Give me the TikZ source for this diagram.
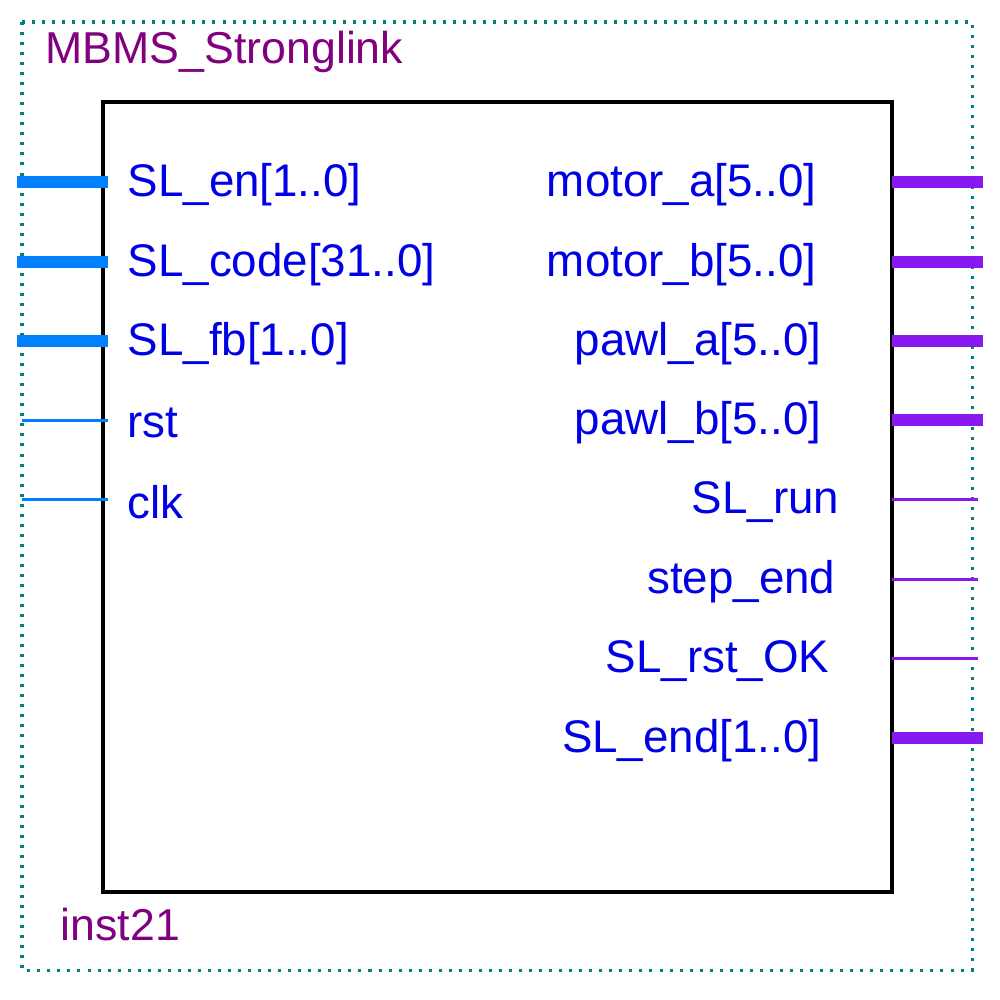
\documentclass[tikz,border=0pt]{standalone}
\usepackage{fontspec}
\setmainfont{Liberation Sans}
\definecolor{teal1}{RGB}{0,128,128}
\definecolor{purp}{RGB}{128,0,128}
\definecolor{inc}{RGB}{0,128,255}
\definecolor{outc}{RGB}{136,24,240}
\begin{document}
\begin{tikzpicture}[x=0.01cm,y=-0.01cm,
  lbl/.style={text=blue!90!black,font=\fontsize{13}{14}\selectfont,inner sep=0pt},
  ttl/.style={text=purp,font=\fontsize{12.7}{14}\selectfont,inner sep=0pt},
  inbus/.style={draw=inc,line width=0.12cm},
  insig/.style={draw=inc,line width=0.03cm},
  outbus/.style={draw=outc,line width=0.12cm},
  outsig/.style={draw=outc,line width=0.03cm}]
\useasboundingbox (0,0) rectangle (1000,1000);
\draw[teal1,line width=0.03cm,dotted] (22,22) rectangle (972,970);
\draw[line width=0.04cm] (103,102) rectangle (892,892);
\node[ttl,anchor=west] (title) at (45,52) {MBMS\_Stronglink};
\node[ttl,anchor=west] (inst) at (60,925) {inst21};
\foreach \n/\y/\t/\s/\xs in {a/182/SL\_en[1..0]/inbus/17,b/262/SL\_code[31..0]/inbus/17,c/341/SL\_fb[1..0]/inbus/17,d/420/rst/insig/22,e/499/clk/insig/22}{
  \coordinate (l\n) at (\xs,\y); \coordinate (r\n) at (108,\y);
  \draw[\s] (l\n) -- (r\n);
  \node[lbl,anchor=west] (t\n) at (127,\y+3) {\t};
}
\foreach \n/\y/\x/\t/\s/\xe in {a/182/817/motor\_a[5..0]/outbus/983,b/262/817/motor\_b[5..0]/outbus/983,c/341/822/pawl\_a[5..0]/outbus/983,d/420/822/pawl\_b[5..0]/outbus/983,e/499/840/SL\_run/outsig/978,f/579/836/step\_end/outsig/978,g/658/830/SL\_rst\_OK/outsig/978,h/738/822/SL\_end[1..0]/outbus/983}{
  \coordinate (pl\n) at (892,\y); \coordinate (pr\n) at (\xe,\y);
  \draw[\s] (pl\n) -- (pr\n);
  \node[lbl,anchor=east] (u\n) at (\x,\y+3) {\t};
}
\end{tikzpicture}
\end{document}
